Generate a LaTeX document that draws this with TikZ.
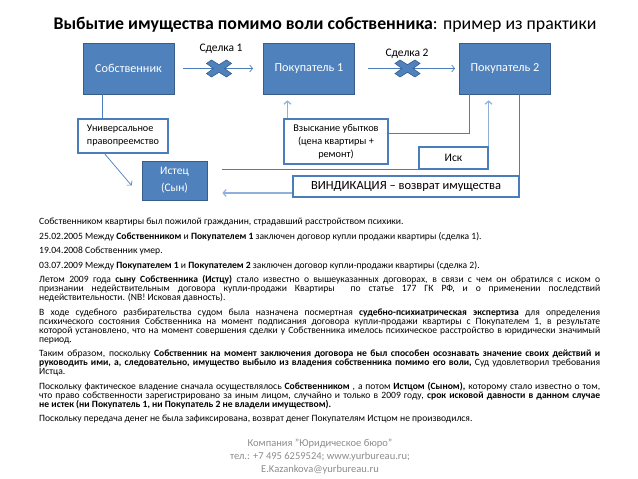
\documentclass[tikz,border=0pt]{standalone}
\usepackage{fontspec}
\setmainfont{Carlito}
\usepackage{xcolor}
\usetikzlibrary{arrows.meta,calc,positioning}
\definecolor{boxfill}{HTML}{4F81BD}
\definecolor{boxline}{HTML}{385D8A}
\definecolor{linkblue}{HTML}{4A7EBB}
\definecolor{lightlink}{HTML}{8EB0DB}
\definecolor{footgray}{HTML}{8C8C8C}
\newcommand{\dealcross}[1]{%
  \filldraw[fill=boxfill,draw=boxline,line width=0.6pt,shift={(#1)},xscale=12.5,yscale=8.5]
    (0,0.45)--(0.6,1)--(1,0.6)--(0.45,0)--(1,-0.6)--(0.6,-1)--(0,-0.45)--(-0.6,-1)
    --(-1,-0.6)--(-0.45,0)--(-1,0.6)--(-0.6,1)--cycle;}

\begin{document}
\begin{tikzpicture}[x=1pt,y=-1pt,font=\fontsize{12.2}{14}\selectfont,
  >={Straight Barb[length=3pt,width=7pt]},
  bluebox/.style={draw=boxline,fill=boxfill,text=white,line width=0.8pt,
    minimum width=91pt,minimum height=51pt,inner sep=2pt},
  notebox/.style={draw=linkblue,fill=white,line width=1.1pt,inner sep=2pt},
  link/.style={draw=linkblue,line width=0.7pt},
  softlink/.style={draw=lightlink,line width=1.2pt}]
\useasboundingbox (0,0) rectangle (638,479);

% title
\node (title) at (325,25) {\fontsize{17.8}{20}\selectfont\textbf{Выбытие имущества помимо воли собственника}: пример из практики};

% parties
\node[bluebox] (owner) at (128.5,68.5) {Собственник};
\node[bluebox] (buyerA) at (309,68.5) {Покупатель 1};
\node[bluebox] (buyerB) at (505,68.5) {Покупатель 2};
\node[bluebox,minimum width=65pt,minimum height=39pt,align=center,
  font=\fontsize{11.5}{17}\selectfont] (plaintiff) at (174.5,180.5) {Истец\\(Сын)};

% notes
\node[notebox,minimum width=90pt,minimum height=34pt,align=left,font=\fontsize{10.2}{13}\selectfont] (succession) at (123,136) {Универсальное\\правопреемство};
\node[notebox,minimum width=104pt,minimum height=45pt,align=center,font=\fontsize{10.3}{13}\selectfont] (damages) at (336,141.5) {Взыскание убытков\\(цена квартиры +\\ремонт)};
\node[notebox,minimum width=69pt,minimum height=22pt,font=\fontsize{11.5}{13}\selectfont] (claim) at (453.5,158) {Иск};
\node[notebox,minimum width=226pt,minimum height=21pt,font=\fontsize{12.5}{14}\selectfont] (vindic) at (406,186.5) {ВИНДИКАЦИЯ -- возврат имущества};

% deals
\draw[link,->,shorten <=9pt,shorten >=10pt] (owner) -- (buyerA);
\draw[link,->,shorten <=13pt,shorten >=4pt] (buyerA) -- (buyerB);
\coordinate (crossA) at (219,68.5);
\coordinate (crossB) at (407.5,68.5);
\dealcross{crossA}
\dealcross{crossB}
\node[font=\fontsize{11.5}{13}\selectfont] (dealA) at (221,49) {Сделка 1};
\node[font=\fontsize{11.5}{13}\selectfont] (dealB) at (407,54) {Сделка 2};

% links below
\draw[link] ([xshift=20pt]owner.south west) -- ([xshift=25pt]succession.north west);
\draw[link,->] ([xshift=27pt]succession.south west) -- ([xshift=-10pt,yshift=-5pt]plaintiff.west);
\draw[softlink,->,shorten >=6pt] ([xshift=4pt]damages.north west) -- ([xshift=4pt]damages.north west |- buyerA.south);
\draw[link] ([xshift=10pt]buyerB.south west) |- ([yshift=8pt]damages.east);
\draw[softlink,->,shorten >=6pt] (claim.north east) -- (claim.north east |- buyerB.south);
\draw[link,shorten >=15pt] (claim.south west) -- (claim.south west -| plaintiff.east);
\draw[link] (vindic.north east |- buyerB.south) -- (vindic.north east);
\draw[softlink,->,shorten >=15pt] ([yshift=-6.5pt]vindic.west) -- ([yshift=-6.5pt]vindic.west -| plaintiff.east);

% case text
\node[anchor=north west,text width=561pt,align=justify,inner sep=0pt,
  font=\fontsize{9.6}{9}\selectfont] (story) at (39,218) {%
\setlength{\parskip}{5.5pt}\setlength{\parindent}{0pt}\lineskiplimit=-20pt
\hyphenpenalty=10000 \exhyphenpenalty=10000
Собственником квартиры был пожилой гражданин, страдавший расстройством психики.\par
25.02.2005 Между \textbf{Собственником} и \textbf{Покупателем 1} заключен договор купли продажи квартиры (сделка 1).\par
19.04.2008 Собственник умер.\par
03.07.2009 Между \textbf{Покупателем 1} и \textbf{Покупателем 2} заключен договор купли-продажи квартиры (сделка 2).\par
Летом 2009 года \textbf{сыну Собственника (Истцу)} стало известно о вышеуказанных договорах, в связи с чем он обратился с иском о\linebreak
признании недействительным договора купли-продажи Квартиры\ \ по статье 177 ГК РФ, и о применении последствий\linebreak
недействительности. (NB! Исковая давность).\par
В ходе судебного разбирательства судом была назначена посмертная \textbf{судебно-психиатрическая экспертиза} для определения\linebreak
психического состояния Собственника на момент подписания договора купли-продажи квартиры с Покупателем 1, в результате\linebreak
которой установлено, что на момент совершения сделки у Собственника имелось психическое расстройство в юридически значимый\linebreak
период.\par
Таким образом, поскольку \textbf{Собственник на момент заключения договора не был способен осознавать значение своих действий и\linebreak
руководить ими, а, следовательно, имущество выбыло из владения собственника помимо его воли,} Суд удовлетворил требования\linebreak
Истца.\par
Поскольку фактическое владение сначала осуществлялось \textbf{Собственником} , а потом \textbf{Истцом (Сыном),} которому стало известно о том,\linebreak
что право собственности зарегистрировано за иным лицом, случайно и только в 2009 году, \textbf{срок исковой давности в данном случае\linebreak
не истек (ни Покупатель 1, ни Покупатель 2 не владели имуществом).}\par
Поскольку передача денег не была зафиксирована, возврат денег Покупателям Истцом не производился.\par};

% contacts
\node[text=footgray,align=center,font=\fontsize{10.5}{13}\selectfont] (contacts) at (320,457) {Компания "Юридическое бюро"\\тел.: +7 495 6259524; www.yurbureau.ru;\\E.Kazankova@yurbureau.ru};
\end{tikzpicture}
\end{document}
